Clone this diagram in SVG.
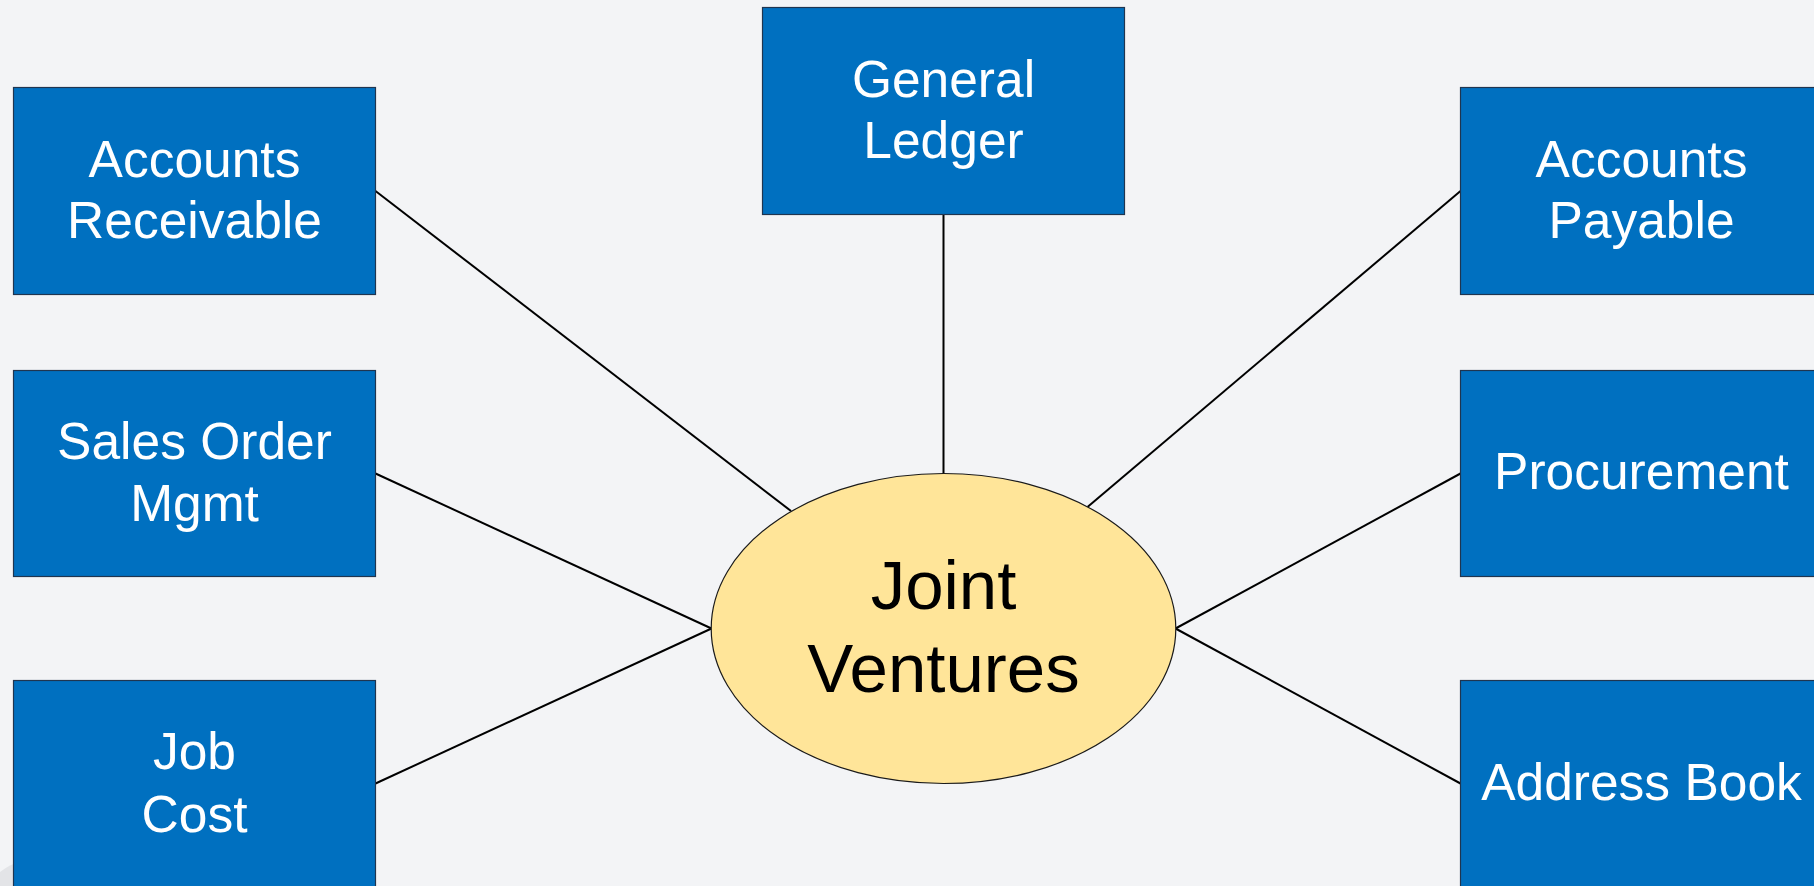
<svg xmlns="http://www.w3.org/2000/svg" width="1814" height="886" viewBox="0 0 1814 886">
  <style>
    .box { fill: #0070c0; stroke: #1f3550; stroke-width: 1.2; }
    .box-label { font-family: "Liberation Sans", Arial, sans-serif; font-size: 51.5px; fill: #ffffff; text-anchor: middle; }
    .hub { fill: #ffe599; stroke: #1a1a1a; stroke-width: 1.2; }
    .hub-label { font-family: "Liberation Sans", Arial, sans-serif; font-size: 69px; fill: #000000; text-anchor: middle; }
    .link { stroke: #000000; stroke-width: 2; fill: none; }
  </style>

  <!-- canvas -->
  <rect x="0" y="0" width="1814" height="886" fill="#f3f4f6"/>
  <path d="M0 872 Q8 866 13.5 864 L13.5 886 L0 886 Z" fill="#e3e4e7"/>

  <!-- connectors from the modules to the hub -->
  <g id="connectors">
    <line class="link" x1="943.5" y1="214.5" x2="943.5" y2="473.5"/>
    <line class="link" x1="375.5" y1="191" x2="791" y2="511"/>
    <line class="link" x1="375.5" y1="473.5" x2="711.5" y2="628.5"/>
    <line class="link" x1="375.5" y1="783.5" x2="711.5" y2="628.5"/>
    <line class="link" x1="1460.5" y1="191" x2="1087.5" y2="507"/>
    <line class="link" x1="1460.5" y1="473.5" x2="1175.5" y2="628.5"/>
    <line class="link" x1="1460.5" y1="783.5" x2="1175.5" y2="628.5"/>
  </g>

  <g id="general-ledger">
    <rect class="box" x="762.5" y="7.5" width="362" height="207"/>
    <text class="box-label" x="943.5" y="96.7">General</text>
    <text class="box-label" x="943.5" y="158.3">Ledger</text>
  </g>

  <g id="accounts-receivable">
    <rect class="box" x="13.5" y="87.5" width="362" height="207"/>
    <text class="box-label" x="194.5" y="176.7">Accounts</text>
    <text class="box-label" x="194.5" y="238.3">Receivable</text>
  </g>

  <g id="sales-order-mgmt">
    <rect class="box" x="13.5" y="370.5" width="362" height="206"/>
    <text class="box-label" x="194.5" y="458.6">Sales Order</text>
    <text class="box-label" x="194.5" y="520.6">Mgmt</text>
  </g>

  <g id="job-cost">
    <rect class="box" x="13.5" y="680.5" width="362" height="207"/>
    <text class="box-label" x="194.5" y="769.3">Job</text>
    <text class="box-label" x="194.5" y="831.7">Cost</text>
  </g>

  <g id="accounts-payable">
    <rect class="box" x="1460.5" y="87.5" width="362" height="207"/>
    <text class="box-label" x="1641.5" y="176.7">Accounts</text>
    <text class="box-label" x="1641.5" y="238.3">Payable</text>
  </g>

  <g id="procurement">
    <rect class="box" x="1460.5" y="370.5" width="362" height="206"/>
    <text class="box-label" x="1641.5" y="489.3">Procurement</text>
  </g>

  <g id="address-book">
    <rect class="box" x="1460.5" y="680.5" width="362" height="207"/>
    <text class="box-label" x="1641.5" y="800">Address Book</text>
  </g>

  <g id="joint-ventures">
    <ellipse class="hub" cx="943.5" cy="628.5" rx="232.3" ry="155"/>
    <text class="hub-label" x="943.5" y="609">Joint</text>
    <text class="hub-label" x="943.5" y="691.7">Ventures</text>
  </g>
</svg>
